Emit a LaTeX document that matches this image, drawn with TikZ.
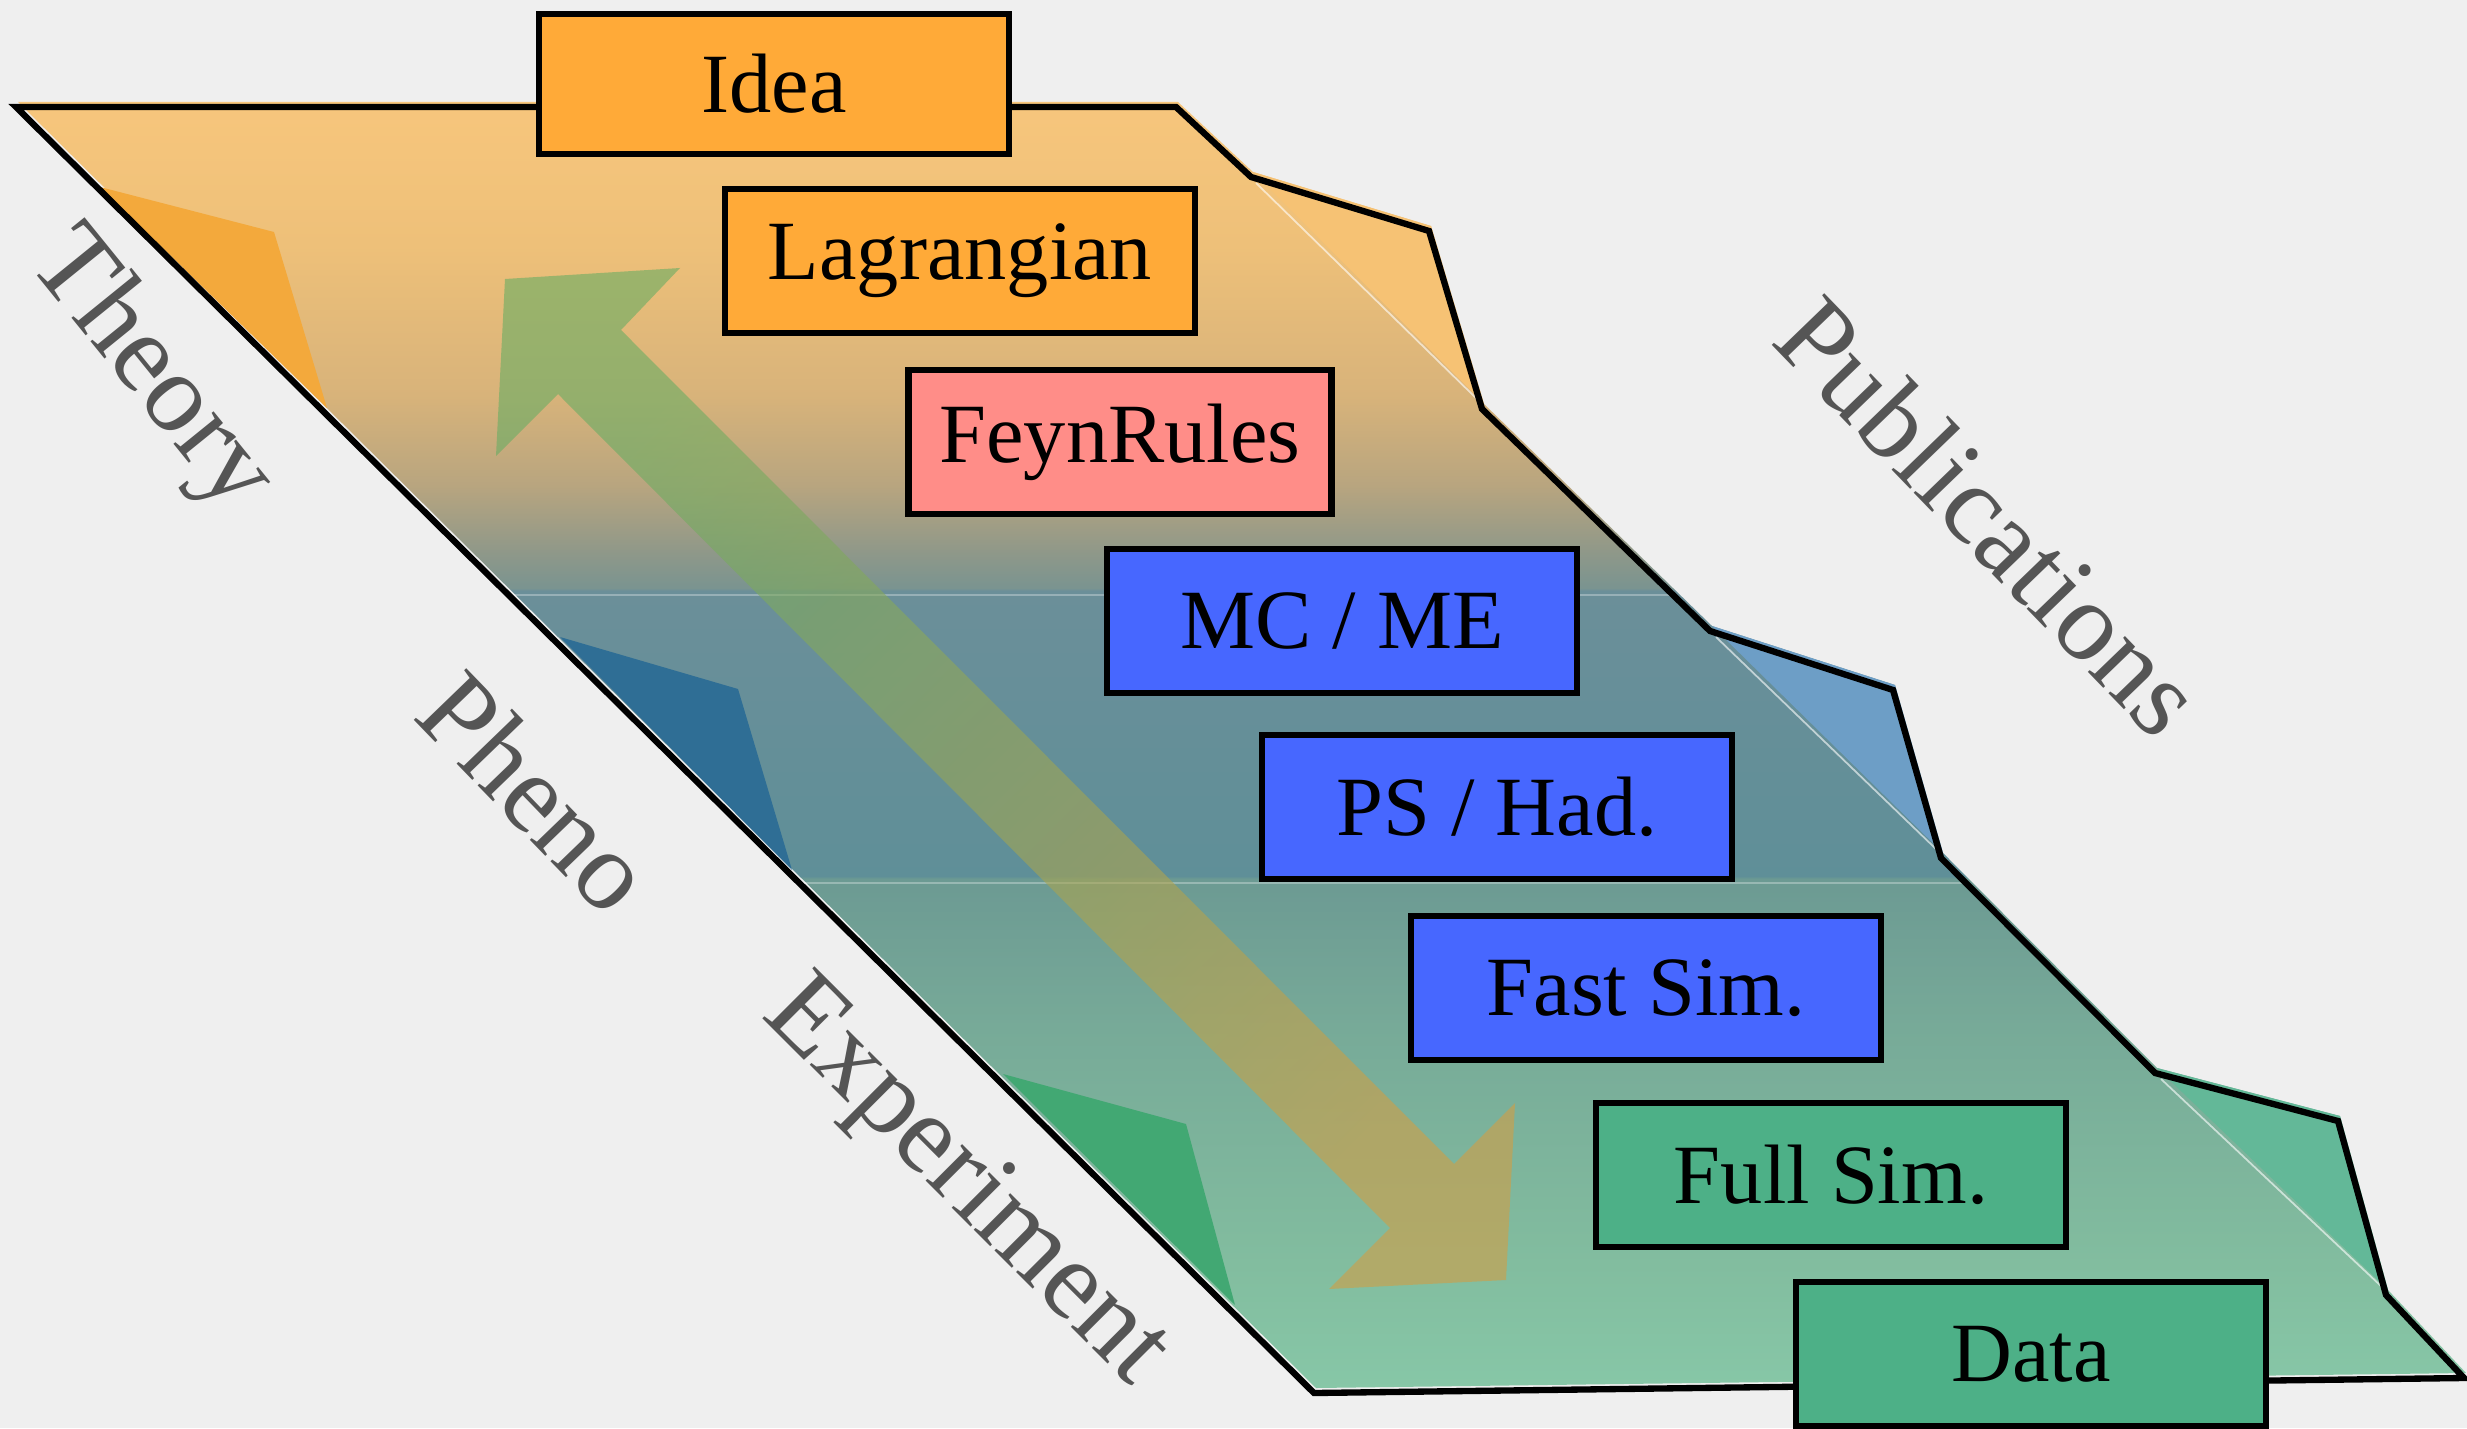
\documentclass[tikz,border=0pt]{standalone}
\usepackage{fontspec}
\setmainfont{Liberation Serif}

\definecolor{paper}{HTML}{EFEFEF}
\definecolor{labelgray}{HTML}{555555}
\definecolor{ideaorange}{HTML}{FFAA38}
\definecolor{feynpink}{HTML}{FF8D88}
\definecolor{mcblue}{HTML}{4767FF}
\definecolor{simgreen}{HTML}{4DB087}
\definecolor{flaporange}{HTML}{F6C274}
\definecolor{flapblue}{HTML}{6D9EC6}
\definecolor{flapgreen}{HTML}{63B898}
\definecolor{shadeorange}{HTML}{F3A93C}
\definecolor{shadeblue}{HTML}{2F6E95}
\definecolor{shadegreen}{HTML}{42A873}
\definecolor{tipgreen}{HTML}{68AD63}
\definecolor{tipgold}{HTML}{D19E45}

% colours of the sheet, bottom (experiment) to top (theory)
\pgfdeclareverticalshading{sheetlayers}{100bp}{%
  rgb(0bp)=(0.529,0.780,0.655);
  rgb(25bp)=(0.529,0.780,0.655);
  rgb(29.8bp)=(0.510,0.741,0.624);
  rgb(39bp)=(0.467,0.667,0.596);
  rgb(44.8bp)=(0.424,0.604,0.576);
  rgb(44.9bp)=(0.373,0.561,0.596);
  rgb(56bp)=(0.420,0.561,0.600);
  rgb(56.1bp)=(0.478,0.580,0.565);
  rgb(57.5bp)=(0.561,0.596,0.537);
  rgb(60.1bp)=(0.722,0.647,0.498);
  rgb(63.6bp)=(0.847,0.702,0.478);
  rgb(69.4bp)=(0.933,0.753,0.475);
  rgb(75bp)=(0.969,0.776,0.486);
  rgb(100bp)=(0.969,0.776,0.486)}

\newcommand{\sheetpath}{(16,107) -- (1176,107) -- (1251,177) -- (1429,231) -- (1482,409)
  -- (1710,631) -- (1893,690) -- (1941,858) -- (2155,1073) -- (2338,1121)
  -- (2386,1295) -- (2464,1378) -- (1314,1393) -- cycle}

\tikzset{
  stagebox/.style={draw=black, line width=1.8pt, inner sep=0pt,
    minimum width=47mm, minimum height=14.4mm,
    font=\fontsize{24}{28}\selectfont},
  arealabel/.style={text=labelgray, inner sep=0pt,
    font=\fontsize{32}{38}\selectfont},
  foldline/.style={white, opacity=0.6, line width=0.5pt}
}

\begin{document}
\begin{tikzpicture}[x=0.1mm, y=-0.1mm]

\fill[paper] (0,0) rectangle (2467,1428);
\useasboundingbox (0,0) rectangle (2467,1428);

% the sheet
\shade[shading=sheetlayers, shift={(2,-5)}] \sheetpath;

\fill[flaporange, shift={(2,-5)}] (1251,177) -- (1429,231) -- (1482,409) -- cycle;
\fill[flapblue, shift={(2,-5)}] (1710,631) -- (1893,690) -- (1941,858) -- cycle;
\fill[flapgreen, shift={(2,-5)}] (2155,1073) -- (2338,1121) -- (2386,1295) -- cycle;

\draw[foldline] (1256,183) -- (1478,400);
\draw[foldline] (1716,637) -- (1937,850);
\draw[foldline] (2161,1079) -- (2382,1287);

\begin{scope}
\clip \sheetpath;
\draw[white, opacity=0.3, line width=0.6pt] (0,595) -- (2467,595);
\draw[white, opacity=0.3, line width=0.6pt] (0,883) -- (2467,883);
\end{scope}

% shadows on the left edge
\fill[shadeorange] (100,187) -- (274,232) -- (327,408) -- cycle;
\fill[shadeblue] (560,637) -- (738,689) -- (792,870) -- cycle;
\fill[shadegreen] (1003,1074) -- (1186,1124) -- (1235,1305) -- cycle;

% the two-way arrow
\shade[top color=tipgreen, bottom color=tipgold, shading angle=45, fill opacity=0.6]
  (621,330) -- (680,268) -- (505,279) -- (496,456) -- (558,394)
  -- (1390,1228) -- (1329,1289) -- (1506,1280) -- (1515,1103) -- (1454,1164) -- cycle;

\draw[line width=1.8pt] \sheetpath;

% the steps
\node[stagebox, fill=ideaorange, minimum height=14mm] (idea) at (774,84) {Idea};
\node[stagebox, fill=ideaorange] (lagrangian) at (960,261) {Lagrangian};
\node[stagebox, fill=feynpink, minimum width=42.3mm] (feynrules) at (1120,442) {FeynRules};
\node[stagebox, fill=mcblue] (mcme) at (1342,621) {MC / ME};
\node[stagebox, fill=mcblue] (pshad) at (1497,807) {PS / Had.};
\node[stagebox, fill=mcblue] (fastsim) at (1646,988) {Fast Sim.};
\node[stagebox, fill=simgreen] (fullsim) at (1831,1175) {Full Sim.};
\node[stagebox, fill=simgreen] (data) at (2031,1354) {Data};

\node[arealabel, rotate=-51] (theory) at (150,372) {Theory};
\node[arealabel, rotate=-46] (pheno) at (537,792) {Pheno};
\node[arealabel, rotate=-45] (experiment) at (964,1184) {Experiment};
\node[arealabel, rotate=-46] (publications) at (1990,516) {Publications};

\end{tikzpicture}
\end{document}
